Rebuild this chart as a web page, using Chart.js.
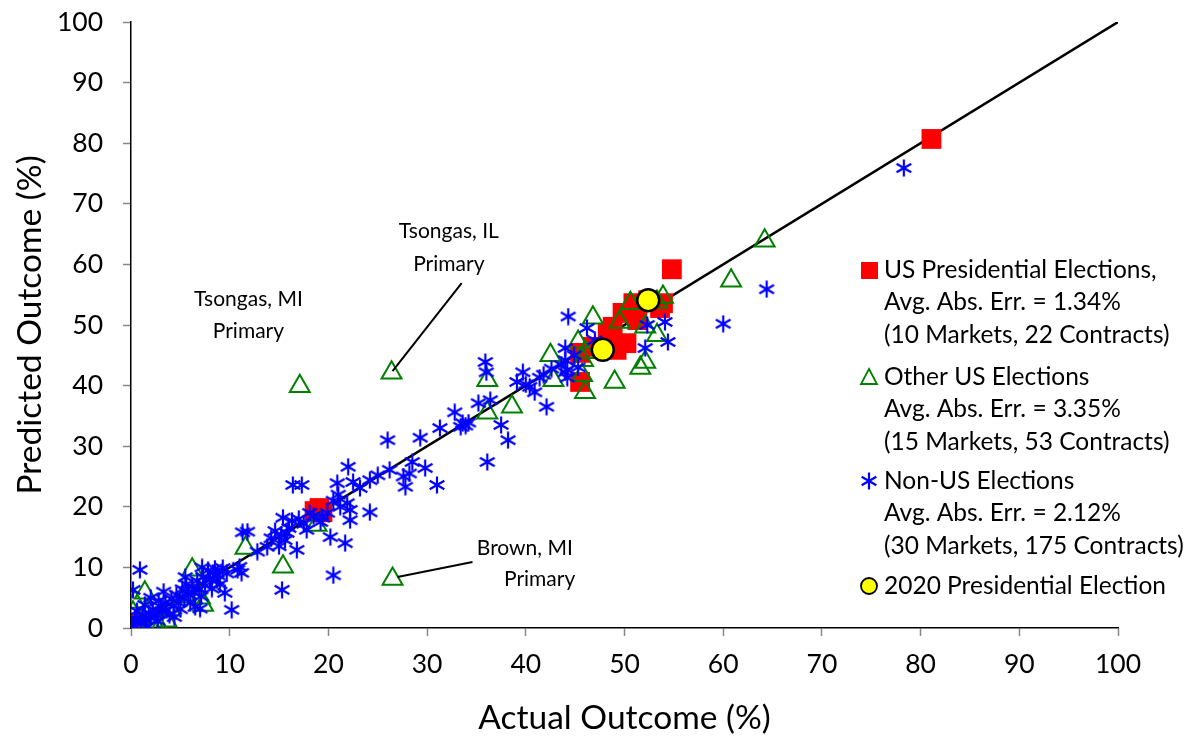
<!DOCTYPE html>
<html><head><meta charset="utf-8">
<script src="https://cdn.jsdelivr.net/npm/chart.js@4/dist/chart.umd.min.js"></script>
<style>html,body{margin:0;padding:0;background:#fff}#wrap{width:1188px;height:736px}</style>
</head><body><div id="wrap"><canvas id="c" width="1188" height="736"></canvas></div>
<script>
// ---- DATA ----
const xTitle = "Actual Outcome (%)";
const yTitle = "Predicted Outcome (%)";
const tickValues = [0,10,20,30,40,50,60,70,80,90,100];

const presPoints = [[0,0],[0.3,0.4],[0.6,0],[0,0.8],[18.6,19.3],[19.1,19.8],[19.4,19.1],
 [45.5,40.6],[45.5,45.4],[46.8,46.4],[48.3,48.7],[48.8,49.7],[49.2,45.9],[50.2,47.0],
 [49.8,52.0],[51.3,50.8],[50.9,53.6],[52.4,54.1],[53.6,52.8],[53.9,53.6],[54.8,59.2],[81.1,80.7]];

const otherPoints = [[17.1,39.9],[26.4,42.1],[26.5,8.1],[64.2,63.9],[60.8,57.3],
 [53.9,54.6],[53.3,53.8],[46.8,51.2],[50.6,53.6],[49.5,50.5],[52.1,49.7],[53.3,48.3],
 [45.3,47.2],[46.0,45.5],[45.8,44.2],[45.7,41.7],[46.0,38.9],[49.0,40.6],[51.6,42.9],
 [52.1,43.9],[42.5,45.0],[42.8,40.9],[36.1,40.9],[36.1,35.5],[38.6,36.5],
 [18.8,17.0],[11.6,13.2],[15.4,10.1],[6.2,9.6],[1.4,5.8],[0.4,4.3],[7.3,3.8],
 [2.9,0.1],[2.4,0.5],[0,0],[0.8,1.5],[1.2,0.3],[5.5,5.2],[4.0,3.0],[0.2,2.5],
 [3.6,1.2],[7.0,5.0],[1.8,2.8],[0.5,0.2]];

const nonUsPoints = [[78.3,75.9],[64.4,55.9],[60.0,50.2],
 [44.3,51.4],[46.2,49.5],[47.0,47.5],[44.0,46.2],[44.0,44.2],[44.2,42.6],[44.2,41.3],
 [52.3,50.0],[54.1,50.5],[54.4,47.2],[52.1,46.2],[44.9,45.0],[45.3,43.0],[43.6,43.4],
 [35.9,43.9],[36.0,42.2],[39.7,42.2],[39.1,40.6],[41.4,41.3],[40.4,39.8],[40.9,38.9],
 [42.1,36.5],[44.0,42.2],[36.4,37.6],[35.2,37.1],[38.2,31.0],[36.1,27.4],[41.8,41.8],
 [42.6,42.8],[40.0,40.2],[37.5,33.5],
 [26.0,31.0],[29.3,31.4],[31.3,33.0],[32.8,35.6],[33.6,33.8],[33.9,33.4],[34.2,33.9],
 [33.4,33.2],[28.5,27.4],[29.8,26.4],[26.2,26.1],[27.6,25.0],[28.2,25.5],[27.8,23.3],
 [31.0,23.6],[24.2,24.4],[23.2,23.1],[25.0,25.2],
 [22.2,19.5],[24.2,19.1],[16.4,23.6],[17.3,23.6],[22.0,26.6],[20.9,23.9],[22.5,24.1],
 [21.9,20.6],[22.2,17.8],[21.7,14.0],[20.5,8.7],[20.2,15.0],[17.8,16.2],[15.4,18.2],
 [15.8,15.7],[15.6,14.5],[16.8,12.9],[13.8,13.4],[11.3,15.8],[11.8,15.9],[11.0,10.1],
 [11.2,9.1],[15.3,6.3],[18.1,19.0],[19.9,19.0],[21.0,22.0],[20.5,21.0],[18.5,18.5],
 [17.5,17.2],[16.0,16.5],[21.2,20.0],[19.4,18.2],[12.8,12.6],[14.2,14.8],[16.3,17.7],
 [15.0,13.5],[17.0,18.0],[15.2,15.3],[14.6,16.0],[19.2,17.5],
 [0.9,9.6],[0.2,6.3],[10.2,3.0],[9.5,5.8],[10.8,9.6],[8.3,9.1],[8.7,7.9],[0.2,0.5],
 [0.5,1.2],[1.0,0.8],[1.2,2.0],[1.5,1.3],[1.8,2.5],[2.0,1.6],[2.2,3.0],[2.5,2.2],
 [2.7,1.2],[3.0,3.5],[3.2,2.6],[3.5,4.2],[3.6,3.0],[3.9,2.2],[4.1,4.8],[4.3,3.6],
 [4.6,5.5],[4.8,4.2],[5.0,3.1],[5.2,6.4],[5.4,5.0],[5.6,7.2],[5.8,5.6],[6.0,4.2],
 [6.2,6.8],[6.4,5.8],[6.7,7.8],[6.9,6.4],[7.1,5.2],[7.3,8.4],[7.5,7.0],[7.8,9.5],
 [8.0,8.0],[8.2,6.5],[8.5,9.8],[8.8,8.7],[9.0,7.2],[9.3,9.9],[9.7,9.0],[6.5,3.5],
 [4.4,1.8],[2.8,4.5],[1.4,3.8],[0.6,2.8],[2.0,5.0],[3.3,6.0],[5.5,8.4],[7.2,10.0],
 [0.4,1.5],[1.6,0.3],[7.0,3.2]];

const pres2020Points = [[47.8,45.9],[52.4,54.1]];
const diagonal = [[0,0],[100,100]];

const legendLines = [
  ["US Presidential Elections,","Avg. Abs. Err. = 1.34%","(10 Markets, 22 Contracts)"],
  ["Other US Elections","Avg. Abs. Err. = 3.35%","(15 Markets, 53 Contracts)"],
  ["Non-US Elections","Avg. Abs. Err. = 2.12%","(30 Markets, 175 Contracts)"],
  ["2020 Presidential Election"]
];
const annotations = [
  {lines:["Tsongas, MI","Primary"], x:[11.9,11.9], y:[54.3,49.0], from:null},
  {lines:["Tsongas, IL","Primary"], x:[32.2,32.2], y:[65.5,60.1], from:[33.5,56.9], to:[26.5,42.4]},
  {lines:["Brown, MI","Primary"], x:[39.9,41.4], y:[13.2,8.1], from:[34.6,10.9], to:[27.0,8.4]}
];

// ---- RENDER ----
const FONT = "Lato, 'Open Sans', sans-serif";
const toXY = arr => arr.map(p => ({x:p[0], y:p[1]}));

function makeAsterisk(size, color, lw){
  const c = document.createElement('canvas');
  c.width = size; c.height = size;
  const g = c.getContext('2d');
  const m = size/2, r = size/2 - 0.5;
  g.strokeStyle = color; g.lineWidth = lw; g.lineCap = 'butt';
  g.beginPath();
  g.moveTo(m, m - r); g.lineTo(m, m + r);
  const dx = r*Math.cos(Math.PI/6), dy = r*Math.sin(Math.PI/6);
  g.moveTo(m - dx, m - dy); g.lineTo(m + dx, m + dy);
  g.moveTo(m - dx, m + dy); g.lineTo(m + dx, m - dy);
  g.stroke();
  return c;
}
const asterisk = makeAsterisk(18, '#0000FF', 2.2);

const legendPlugin = {
  id: 'customLegend',
  afterDraw(chart){
    const ctx = chart.ctx;
    const ca = chart.chartArea;
    const mx = ca.right - 249, tx = ca.right - 234;
    const rows = [ca.top + 248, ca.top + 355, ca.top + 459, ca.top + 564];
    const gap = 32.5;
    ctx.save();
    ctx.font = "24.5px " + FONT;
    ctx.fillStyle = '#000';
    ctx.textBaseline = 'middle';
    ctx.textAlign = 'left';
    legendLines.forEach((lines, i) => {
      lines.forEach((t, j) => ctx.fillText(t, tx, rows[i] + j*gap));
    });
    const y0 = rows[0];
    ctx.fillStyle = '#FF0000';
    ctx.fillRect(mx - 8, y0 - 8, 17, 17);
    const y1 = rows[1];
    ctx.strokeStyle = '#008000'; ctx.lineWidth = 1.8;
    ctx.beginPath(); ctx.moveTo(mx, y1 - 8); ctx.lineTo(mx + 8, y1 + 7); ctx.lineTo(mx - 8, y1 + 7); ctx.closePath(); ctx.stroke();
    ctx.drawImage(asterisk, mx - 9, rows[2] - 9);
    ctx.beginPath(); ctx.arc(mx, rows[3], 8, 0, Math.PI*2);
    ctx.fillStyle = '#FFFF00'; ctx.fill();
    ctx.strokeStyle = '#000'; ctx.lineWidth = 1.8; ctx.stroke();
    ctx.restore();
  }
};

const annotationPlugin = {
  id: 'notes',
  afterDatasetsDraw(chart){
    const ctx = chart.ctx, xs = chart.scales.x, ys = chart.scales.y;
    ctx.save();
    ctx.font = "21px " + FONT;
    ctx.fillStyle = '#000';
    ctx.textAlign = 'center';
    ctx.textBaseline = 'middle';
    annotations.forEach(a => {
      a.lines.forEach((t, j) => ctx.fillText(t, xs.getPixelForValue(a.x[j]), ys.getPixelForValue(a.y[j])));
      if (a.from){
        ctx.strokeStyle = '#000'; ctx.lineWidth = 2;
        ctx.beginPath();
        ctx.moveTo(xs.getPixelForValue(a.from[0]), ys.getPixelForValue(a.from[1]));
        ctx.lineTo(xs.getPixelForValue(a.to[0]), ys.getPixelForValue(a.to[1]));
        ctx.stroke();
      }
    });
    ctx.restore();
  }
};

const axisCommon = {
  type: 'linear', min: 0, max: 100,
  ticks: { stepSize: 10, color: '#000', font: {family: FONT, size: 26.5}, padding: 13 },
  grid: { drawOnChartArea: false, drawTicks: true, tickLength: 8, color: '#888', tickWidth: 1.5 },
  border: { display: true, color: '#000', width: 1.5 }
};
function zeroPad(s){ s.paddingTop = 0; s.paddingBottom = 0; s.paddingLeft = 0; s.paddingRight = 0; }

new Chart(document.getElementById('c'), {
  type: 'scatter',
  data: {
    datasets: [
      { label: '2020', data: toXY(pres2020Points), order: 0, pointStyle: 'circle', pointRadius: 11,
        backgroundColor: '#FFFF00', borderColor: '#000', borderWidth: 2.5 },
      { label: 'Non-US', data: toXY(nonUsPoints), order: 1, pointStyle: asterisk, pointRadius: 9 },
      { label: 'Other US', data: toXY(otherPoints), order: 2, pointStyle: 'triangle', pointRadius: 11.5,
        backgroundColor: 'rgba(0,0,0,0)', borderColor: '#008000', borderWidth: 2 },
      { label: 'US Pres', data: toXY(presPoints), order: 3, pointStyle: 'rect', pointRadius: 14,
        backgroundColor: '#FF0000', borderColor: '#FF0000', borderWidth: 0 },
      { label: 'diag', type: 'line', data: toXY(diagonal), order: 4, borderColor: '#000', borderWidth: 2.5,
        pointRadius: 0, fill: false, showLine: true }
    ]
  },
  options: {
    responsive: false, animation: false, devicePixelRatio: 1,
    layout: { padding: { top: 22, right: 70, left: 0, bottom: 0 } },
    plugins: { legend: { display: false }, tooltip: { enabled: false } },
    scales: {
      x: Object.assign({}, axisCommon, {
        position: 'bottom',
        title: { display: true, text: xTitle, color: '#000', font: {family: FONT, size: 33.5, lineHeight: 1}, padding: {top: 0, bottom: 1} },
        afterFit(s){ s.height = 108; zeroPad(s); }
      }),
      y: Object.assign({}, axisCommon, {
        position: 'left',
        ticks: Object.assign({}, axisCommon.ticks, {padding: 20}),
        title: { display: true, text: yTitle, color: '#000', font: {family: FONT, size: 33.5, lineHeight: 1}, padding: {top: 13, bottom: 0} },
        afterFit(s){ s.width = 131; zeroPad(s); }
      })
    }
  },
  plugins: [annotationPlugin, legendPlugin]
});
</script>
</body></html>
